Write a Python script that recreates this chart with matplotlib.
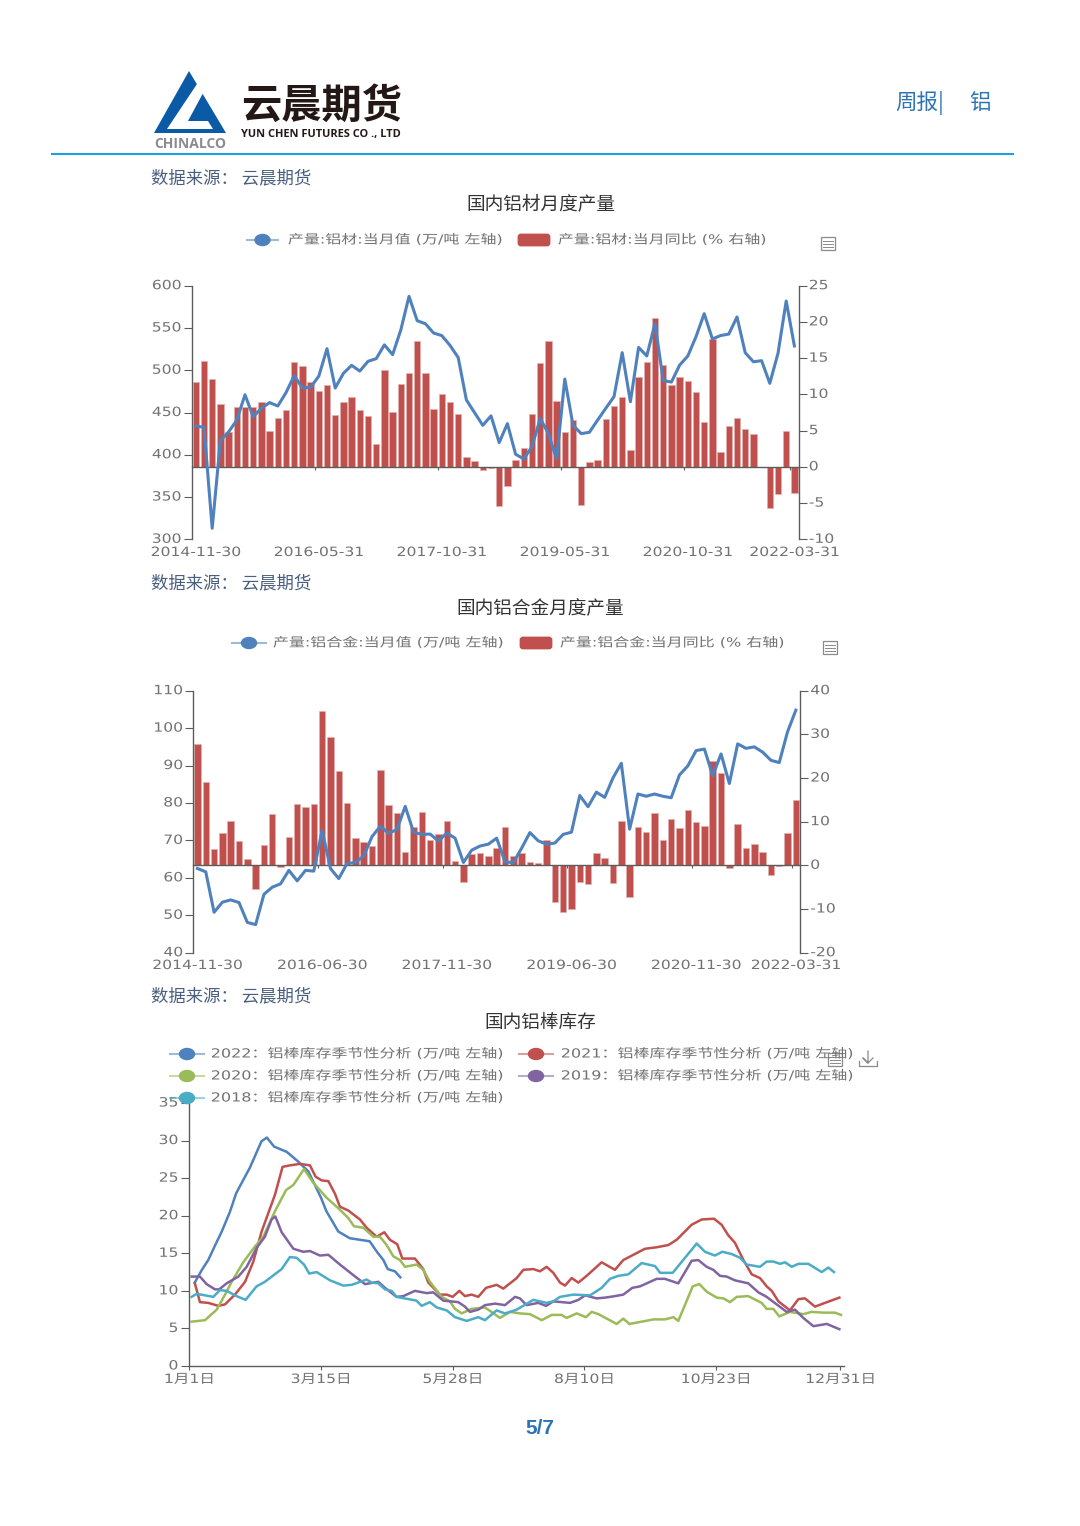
#!/usr/bin/env python3
import matplotlib

matplotlib.use("Agg")
import matplotlib.pyplot as plt
import numpy as np
from matplotlib.patches import Ellipse, FancyBboxPatch, Polygon, Rectangle
from matplotlib.patheffects import AbstractPathEffect
from matplotlib.transforms import Affine2D, ScaledTranslation

plt.rcParams["font.family"] = ["DejaVu Sans", "Noto Sans CJK SC"]
plt.rcParams["axes.unicode_minus"] = False

W, H = 1080, 1526

## Chart 1: aluminium products
products_labels = ["2014-11-30", "2016-05-31", "2017-10-31", "2019-05-31", "2020-10-31", "2022-03-31"]
products_label_idx = [0, 15, 30, 45, 60, 73]
products_level = [
    434, 432.5, 313, 416.7, 427, 441, 471, 445, 455, 461.7, 457.7, 473.5, 493.6, 479, 479.8, 493,
    525.5, 479, 496.3, 505.8, 499, 510.5, 513.7, 530, 518.4, 547.6, 587.4, 558.6, 555, 544, 541,
    529.4, 515, 464.8, 449.8, 434.8, 446, 414.5, 436.8, 400.6, 395, 409.6, 443, 425, 395, 489.6,
    435, 425, 426.6, 441, 455, 468.7, 520.8, 462.8, 527, 516.9, 555.5, 487.7, 486, 506, 516.8,
    539.7, 566.9, 537, 541, 542.8, 563, 520.8, 510, 511.3, 484.5, 520, 581.9, 528.7,
]
products_yoy = [
    11.65, 14.6, 12.06, 8.7, 4.74, 8.3, 8.3, 8.2, 9.0, 4.9, 6.8, 7.9, 14.5, 13.95, 11.65, 10.5,
    11.3, 7.2, 8.9, 9.7, 7.8, 6.95, 3.2, 13.35, 7.55, 11.5, 12.9, 17.35, 12.9, 8.05, 10.0, 8.9,
    7.35, 1.3, 0.75, -0.45, -0.1, -5.4, -2.6, 0.95, 2.6, 7.35, 14.35, 17.35, 9.05, 4.75, 6.45,
    -5.3, 0.65, 1.0, 6.6, 8.4, 9.65, 2.3, 12.4, 14.45, 20.6, 14.1, 11.35, 12.35, 11.9, 10.35,
    6.2, 17.6, 2.1, 5.65, 6.75, 5.25, 4.55, 0, -5.7, -3.8, 4.9, -3.6,
]

## Chart 2: aluminium alloy
alloy_labels = ["2014-11-30", "2016-06-30", "2017-11-30", "2019-06-30", "2020-11-30", "2022-03-31"]
alloy_label_idx = [0, 15, 30, 45, 60, 72]
alloy_level = [
    62.5, 61.6, 50.8, 53.5, 54.1, 53.4, 48.1, 47.5, 55.6, 57.5, 58.4, 62.0, 59.2, 62.0, 61.8, 72.7,
    62.5, 59.8, 63.8, 64.1, 65.8, 71.0, 73.8, 71.9, 72.9, 79.1, 72.2, 71.6, 71.7, 69.8, 72.0, 70.6,
    64.1, 67.4, 68.5, 69.0, 70.6, 64.3, 64.05, 67.9, 72.1, 69.9, 69.0, 69.3, 71.6, 72.2, 82.0,
    79.0, 82.9, 81.5, 86.7, 90.6, 73.0, 82.4, 81.8, 82.4, 81.8, 81.4, 87.5, 89.9, 94.0, 94.4,
    87.3, 93.1, 85.2, 95.8, 94.6, 95.0, 93.6, 91.4, 90.8, 99.0, 104.8,
]
alloy_yoy = [
    27.9, 19.2, 3.8, 7.4, 10.1, 5.5, 1.5, -5.4, 4.7, 11.7, -0.4, 6.6, 14.0, 13.4, 14.0, 35.4, 29.4,
    21.6, 14.3, 6.3, 5.4, 4.4, 21.9, 13.8, 12.1, 3.1, 8.8, 12.2, 5.7, 7.2, 10.2, 1.1, -3.7, 2.7,
    2.9, 2.2, 3.9, 8.85, 2.1, 2.75, 0.75, 0.45, 5.9, -8.3, -10.6, -9.9, -3.9, -4.3, 2.75, 1.6,
    -4.1, 10.15, -7.2, 8.8, 7.55, 11.9, 5.8, 10.7, 8.55, 12.6, 9.85, 9.0, 23.9, 21.2, -0.6, 9.45,
    4.05, 4.8, 3.05, -2.3, -0.15, 7.5, 14.9,
]

## Chart 3: billet stocks, day of the season axis against stock
stock_ticks = [0, 73, 146, 219, 292, 361]
stock_labels = ["1月1日", "3月15日", "5月28日", "8月10日", "10月23日", "12月31日"]

days_2022 = [3, 7, 10.5, 14, 18, 22.5, 26, 33.6, 40, 43, 47, 54, 60.4, 66, 69, 73, 76, 82.6, 89, 100,
             104, 107.6, 110, 114, 117]
stock_2022 = [11.1, 12.8, 14.1, 15.9, 17.9, 20.5, 23.0, 26.4, 29.9, 30.4, 29.2, 28.5, 27.2, 25.9, 24.4,
              22.4, 20.6, 17.9, 17.0, 16.6, 15.2, 14.1, 12.9, 12.6, 11.8]

days_2021 = [3.1, 5.9, 10.5, 16.1, 19.8, 25.3, 30.9, 35.5, 40.1, 47.5, 51.7, 55.8, 61.4, 66.9, 70, 73.4,
             77.1, 80.8, 83.5, 88.1, 94.6, 98.3, 103.9, 108.1, 111.2, 115.3, 118.1, 125.1, 129.7,
             132.5, 139, 142.7, 146, 149.7, 152.8, 156.5, 160.2, 164.5, 170.4, 174.1, 177.8, 181.5,
             185.2, 190.7, 194.4, 198.1, 201.8, 205.5, 208.3, 212, 215.7, 220.3, 228.6, 236, 240.6,
             246.2, 252.6, 259.1, 265.6, 270.2, 278.5, 284.1, 290.9, 295.1, 298.8, 302.5, 307.2,
             311.8, 316.4, 320.1, 322.9, 326.6, 333, 337.7, 341.3, 346.9, 352.4, 360.4]
stock_2021 = [11, 8.5, 8.4, 8.0, 8.2, 9.5, 11.2, 13.9, 17.9, 22.8, 26.5, 26.7, 26.9, 26.7, 25.2, 24.7,
              24.6, 22.9, 21.2, 20.7, 19.5, 18.4, 17.2, 17.8, 16.8, 16.2, 14.3, 14.3, 12.9, 11.1,
              9.5, 9.5, 9.2, 10, 9.3, 9.5, 9.2, 10.4, 10.8, 10.3, 11.0, 11.7, 12.8, 12.9, 12.6,
              13.2, 12.4, 11.1, 10.7, 11.7, 11.1, 12, 13.8, 12.8, 14.1, 14.8, 15.6, 15.8, 16.1,
              16.8, 18.8, 19.5, 19.6, 18.8, 17.4, 16.4, 14.1, 12.2, 11.7, 10.6, 10, 8.6, 7.4, 8.9,
              9.0, 7.9, 8.4, 9.1]

days_2020 = [1.3, 5, 8.7, 15.2, 19.8, 23.5, 29.9, 36.4, 41, 47.5, 53.6, 57.7, 63.6, 68.7, 76.1, 82.6,
             88.1, 91.3, 96.5, 102, 105.7, 109.4, 113.1, 116.8, 119.6, 126, 129.7, 133.4, 139.9,
             144.5, 147.3, 151, 156.5, 163.9, 172.2, 177.8, 183.3, 188.9, 195.4, 200.9, 206.4,
             209.2, 214.8, 219.9, 223.1, 226.8, 232.3, 236.9, 240.6, 244, 250.8, 257.3, 263.7,
             268.4, 271.1, 279.1, 282.8, 286.8, 292.4, 296.1, 299.8, 303.5, 309.9, 317.3, 320.1,
             323.8, 327.1, 333, 340.4, 345, 351.5, 358, 361.3]
stock_2020 = [5.9, 6.0, 6.1, 7.5, 9.5, 11.2, 13.8, 15.9, 17.2, 20.6, 23.4, 24.1, 26.2, 24.4, 22.4, 21,
              19.7, 18.6, 18.4, 17.2, 17.2, 16.1, 14.6, 14.1, 13.2, 13.5, 12.8, 11.2, 9.2, 8.6, 7.6,
              7.0, 7.6, 7.8, 6.4, 7.2, 7.0, 6.9, 6.1, 6.8, 6.8, 6.4, 7.0, 6.5, 7.2, 6.9, 6.2, 5.6,
              6.3, 5.6, 5.9, 6.2, 6.2, 6.5, 6.0, 10.6, 10.9, 9.9, 9.1, 9.0, 8.5, 9.2, 9.3, 8.4, 7.6,
              7.6, 6.6, 7.2, 6.9, 7.2, 7.1, 7.1, 6.8]

days_2019 = [1.3, 5.9, 9.6, 14.2, 16.6, 20.7, 27.2, 31.8, 37.3, 41.9, 45.6, 47.7, 51.2, 57.7, 63.2, 66.9,
             72.4, 77.1, 83.5, 90.9, 97.4, 104.8, 108.5, 114.9, 118.6, 125.1, 131.6, 135.3, 140.8,
             149.1, 152.8, 155.6, 160.2, 163.9, 169.5, 175, 180.6, 183.3, 187, 193.5, 197.8, 201.8,
             211.1, 215.7, 219.4, 225.8, 230.5, 236, 240.6, 245.6, 249.9, 259.1, 263.7, 271.1,
             278.5, 282.2, 286.8, 290.5, 294.2, 297.9, 302.5, 309.9, 315.5, 320.1, 331.2, 335.8,
             340.4, 346, 353.4, 360.4]
stock_2019 = [11.9, 11.9, 10.9, 10.2, 10.2, 11.0, 11.9, 13.2, 15.7, 17.2, 19.5, 19.9, 17.8, 15.6, 15.2,
              15.3, 14.7, 14.8, 13.5, 12.1, 10.9, 11.2, 10.4, 9.2, 9.3, 10, 9.7, 9.8, 8.7, 8.5, 7.9,
              7.2, 7.5, 8.1, 8.3, 8.1, 9.2, 9.0, 8.1, 8.4, 8.0, 8.6, 8.4, 8.8, 9.4, 9.0, 9.1, 9.3,
              9.5, 10.4, 10.6, 11.6, 11.6, 11.0, 14, 14.1, 13.2, 12.8, 12, 11.9, 11.4, 11.0, 9.8,
              9.2, 7.2, 7.5, 6.4, 5.3, 5.6, 4.9]

days_2018 = [1.3, 4.1, 13.3, 17, 20.7, 26.2, 31.2, 37.3, 41.9, 51.2, 55.8, 59.5, 63.6, 66.5, 70.6, 78,
             85.4, 90, 98.3, 101.1, 104.8, 108.5, 112.2, 114.9, 126, 128.8, 133.4, 137.1, 142.7,
             147.3, 153.8, 160.2, 163.9, 170.4, 175, 177.8, 181.5, 190.7, 198.1, 201.8, 205.5,
             212.9, 222.2, 228.6, 233.2, 237.9, 243.4, 250.8, 258.2, 261, 268, 281.3, 285.9, 291.4,
             295.5, 300.7, 305.3, 309, 316.4, 320.1, 323.8, 327.5, 330.3, 334, 337.7, 343.2, 350.6,
             354.3, 357.4]
stock_2018 = [9.2, 9.6, 9.2, 10.1, 10.0, 9.3, 8.8, 10.6, 11.2, 12.9, 14.5, 14.4, 13.5, 12.3, 12.5, 11.4,
              10.7, 10.8, 11.5, 11.1, 11.0, 10.2, 10.0, 9.2, 8.7, 8.0, 8.5, 7.8, 7.4, 6.5, 6.0, 6.5,
              6.1, 7.4, 7.0, 7.2, 7.5, 8.8, 8.4, 8.6, 9.2, 9.5, 9.4, 10.4, 11.6, 12, 12.2, 13.7,
              13.3, 12.4, 12.4, 16.3, 15.2, 14.7, 15.2, 14.9, 14.4, 13.5, 13.2, 13.9, 13.9, 13.6,
              13.8, 13.2, 13.6, 13.6, 12.5, 13.1, 12.5]

BLUE, RED, GREEN, PURPLE, TEAL = "#4f81bd", "#c0504d", "#9bbb59", "#8064a2", "#4bacc6"
AXIS = "#5c5c5c"
LABEL = "#727272"
TICK_SIZE = 9.2
TICK_STRETCH = 1.22
LEGEND_SIZE = 9
LEGEND_STRETCH = 1.28


class Stretch(AbstractPathEffect):
    # the chart pictures in the page are pulled sideways, so the labels are too
    def __init__(self, sx, anchor="center"):
        super().__init__()
        self.sx = sx
        self.anchor = anchor

    def draw_path(self, renderer, gc, tpath, affine, rgbFace=None):
        box = tpath.get_extents()
        pivot = {"left": box.x0, "center": (box.x0 + box.x1) / 2, "right": box.x1}[self.anchor]
        stretch = Affine2D().translate(-pivot, 0).scale(self.sx, 1).translate(pivot, 0)
        renderer.draw_path(gc, tpath, stretch + affine, rgbFace)


def px_axes(fig, left, top, right, bottom):
    return fig.add_axes([left / W, 1 - bottom / H, (right - left) / W, (bottom - top) / H])


def stretch_labels(labels, sx, anchor, raise_px=0):
    for label in labels:
        label.set_path_effects([Stretch(sx, anchor)])
        if raise_px:
            label.set_transform(
                label.get_transform() + ScaledTranslation(0, raise_px / 100, label.figure.dpi_scale_trans)
            )


def combo_chart(fig, box, level, yoy, labels, label_idx, left_lim, left_ticks, right_lim, right_ticks, label_y):
    ax_bar = px_axes(fig, *box)
    ax_line = ax_bar.twinx()
    x = np.arange(len(level))

    ax_bar.bar(x, yoy, width=0.78, color=RED, edgecolor="#e3b1af", linewidth=0.5)
    ax_line.plot(x, level, color=BLUE, lw=2.2, solid_joinstyle="round")

    ax_bar.set_xlim(-0.5, len(level) - 0.5)
    ax_bar.set_ylim(*right_lim)
    ax_line.set_ylim(*left_lim)
    ax_bar.set_yticks(right_ticks)
    ax_line.set_yticks(left_ticks)
    ax_bar.yaxis.tick_right()
    ax_line.yaxis.tick_left()
    ax_bar.set_xticks([i - 0.5 for i in label_idx[1:]])
    ax_bar.set_xticklabels([])

    for spine in ("top", "left"):
        ax_bar.spines[spine].set_visible(False)
    for spine in ("top", "right", "bottom"):
        ax_line.spines[spine].set_visible(False)
    ax_bar.spines["bottom"].set_position(("data", 0))

    for ax in (ax_bar, ax_line):
        for spine in ax.spines.values():
            spine.set_color(AXIS)
            spine.set_linewidth(1.0)
        ax.tick_params(axis="y", length=5.5, width=0.8, color=AXIS, labelcolor=LABEL, labelsize=TICK_SIZE, pad=2)
    ax_bar.tick_params(axis="x", length=2.5, width=0.8, color=AXIS)
    stretch_labels(ax_line.get_yticklabels(), TICK_STRETCH, "right", raise_px=1.5)
    stretch_labels(ax_bar.get_yticklabels(), TICK_STRETCH, "left", raise_px=1.5)

    for idx, text in zip(label_idx, labels):
        # labels sit under the band, the axis line itself stays on zero
        fig.text(
            (box[0] + (idx + 0.5) * (box[2] - box[0]) / len(level)) / W,
            1 - label_y / H,
            text,
            ha="center",
            va="center",
            color=LABEL,
            fontsize=TICK_SIZE,
            path_effects=[Stretch(TICK_STRETCH, "center")],
        )


def doc_icon(ov, cx, cy):
    ov.add_patch(Rectangle((cx - 7, cy - 6), 14, 13, fill=False, ec="#8a8a8a", lw=0.9))
    for dy in (-2, 1, 4):
        ov.plot([cx - 5, cx + 5], [cy + dy, cy + dy], color="#8a8a8a", lw=0.7)


def line_key(ov, x0, x1, y, color):
    ov.plot([x0, x1], [y, y], color=color, lw=1.5, alpha=0.55)
    ov.add_patch(Ellipse(((x0 + x1) / 2, y), 15, 11, color=color))


def bar_key(ov, x0, x1, y, color):
    ov.add_patch(FancyBboxPatch((x0 + 2, y - 5), x1 - x0 - 4, 10, boxstyle="round,pad=0,rounding_size=2",
                                mutation_aspect=1, fc=color, ec=color, lw=2))


def legend_text(ov, x, y, text):
    ov.text(x, y, text, ha="left", va="center", color=LABEL, fontsize=LEGEND_SIZE,
            path_effects=[Stretch(LEGEND_STRETCH, "left")])


fig = plt.figure(figsize=(W / 100, H / 100), dpi=100, facecolor="white")

combo_chart(fig, (191.7, 285.7, 798.5, 539.3), products_level, products_yoy, products_labels, products_label_idx,
            (300, 600), list(range(300, 601, 50)), (-10, 25), list(range(-10, 26, 5)), 552.5)
combo_chart(fig, (193.3, 690.7, 800, 952.7), alloy_level, alloy_yoy, alloy_labels, alloy_label_idx,
            (40, 110), list(range(40, 111, 10)), (-20, 40), list(range(-20, 41, 10)), 965.5)

## Seasonal chart
ax3 = px_axes(fig, 189.3, 1103, 843.7, 1366)
for days, stock, color in [
    (days_2022, stock_2022, BLUE),
    (days_2021, stock_2021, RED),
    (days_2020, stock_2020, GREEN),
    (days_2019, stock_2019, PURPLE),
    (days_2018, stock_2018, TEAL),
]:
    ax3.plot(days, stock, color=color, lw=1.8, solid_joinstyle="round")
ax3.set_xlim(0, 362.8)
ax3.set_ylim(0, 35)
ax3.set_yticks(range(0, 36, 5))
ax3.set_xticks(stock_ticks)
ax3.set_xticklabels(stock_labels)
ax3.spines["top"].set_visible(False)
ax3.spines["right"].set_visible(False)
for spine in ("left", "bottom"):
    ax3.spines[spine].set_color(AXIS)
    ax3.spines[spine].set_linewidth(1.0)
ax3.tick_params(axis="y", length=5.5, width=0.8, color=AXIS, labelcolor=LABEL, labelsize=TICK_SIZE, pad=2.5)
ax3.tick_params(axis="x", length=3, width=0.8, color=AXIS, labelcolor=LABEL, labelsize=TICK_SIZE, pad=2)
stretch_labels(ax3.get_yticklabels(), TICK_STRETCH, "right", raise_px=1.5)
stretch_labels(ax3.get_xticklabels(), TICK_STRETCH, "center")

## Page furniture goes on a pixel overlay
ov = fig.add_axes([0, 0, 1, 1], zorder=5)
ov.set_xlim(0, W)
ov.set_ylim(H, 0)
ov.axis("off")

# logo
ov.add_patch(Polygon([(189, 71), (154, 133), (226, 133)], closed=True, fc="#0b5aa6", ec="none"))
ov.add_patch(Polygon([(197, 84), (208, 84), (188, 121), (208, 121), (213, 129), (167, 129)],
                     closed=True, fc="white", ec="none"))
ov.text(190, 144.5, "CHINALCO", ha="center", va="center", color="#8c8c8c", fontsize=10, fontweight="bold",
        family=["Open Sans"])
ov.text(321.5, 106, "云晨期货", ha="center", va="center", color="#231815", fontsize=29, fontweight="bold",
        family=["Noto Sans CJK SC"])
ov.text(321, 134.5, "YUN CHEN FUTURES CO ., LTD", ha="center", va="center", color="#231815", fontsize=7.9,
        fontweight="bold", family=["Open Sans"])
ov.text(895, 103, "周报|", ha="left", va="center", color="#2e74b5", fontsize=15.5, family=["Noto Sans CJK SC"])
ov.text(969, 103, "铝", ha="left", va="center", color="#2e74b5", fontsize=15.5, family=["Noto Sans CJK SC"])
ov.plot([52, 1013], [154, 154], color="#1fa0dc", lw=1.5)

for y in (178.5, 583.5, 996.5):
    ov.text(151, y, "数据来源： 云晨期货", ha="left", va="center", color="#4a5f80", fontsize=12.5,
            family=["Noto Sans CJK SC"])
for y, title in [(204.5, "国内铝材月度产量"), (609.5, "国内铝合金月度产量"), (1022.5, "国内铝棒库存")]:
    ov.text(540.5, y, title, ha="center", va="center", color="#333333", fontsize=13.4,
            family=["Noto Sans CJK SC"])

# legends
line_key(ov, 247, 278, 240, BLUE)
legend_text(ov, 288, 240, "产量:铝材:当月值 (万/吨 左轴)")
bar_key(ov, 517, 551, 240, RED)
legend_text(ov, 558, 240, "产量:铝材:当月同比 (% 右轴)")
doc_icon(ov, 828, 243)

line_key(ov, 232, 266, 643, BLUE)
legend_text(ov, 273, 643, "产量:铝合金:当月值 (万/吨 左轴)")
bar_key(ov, 519, 553, 643, RED)
legend_text(ov, 560, 643, "产量:铝合金:当月同比 (% 右轴)")
doc_icon(ov, 830, 647)

for x0, tx, y, year, color in [
    (170, 211, 1054, "2022", BLUE),
    (519, 561, 1054, "2021", RED),
    (170, 211, 1076, "2020", GREEN),
    (519, 561, 1076, "2019", PURPLE),
    (170, 211, 1098, "2018", TEAL),
]:
    line_key(ov, x0, x0 + 34, y, color)
    legend_text(ov, tx, y, f"{year}：铝棒库存季节性分析 (万/吨 左轴)")
doc_icon(ov, 835, 1059)
ov.plot([868, 868, 863, 868, 873], [1051, 1063, 1058, 1063, 1058], color="#8a8a8a", lw=0.9)
ov.plot([859, 859, 877, 877], [1061, 1066, 1066, 1061], color="#8a8a8a", lw=0.9)

ov.text(540, 1429, "5/7", ha="center", va="center", color="#2e74b5", fontsize=15, fontweight="bold",
        family=["Liberation Sans"])

fig.savefig("out.png", dpi=100, facecolor="white")
